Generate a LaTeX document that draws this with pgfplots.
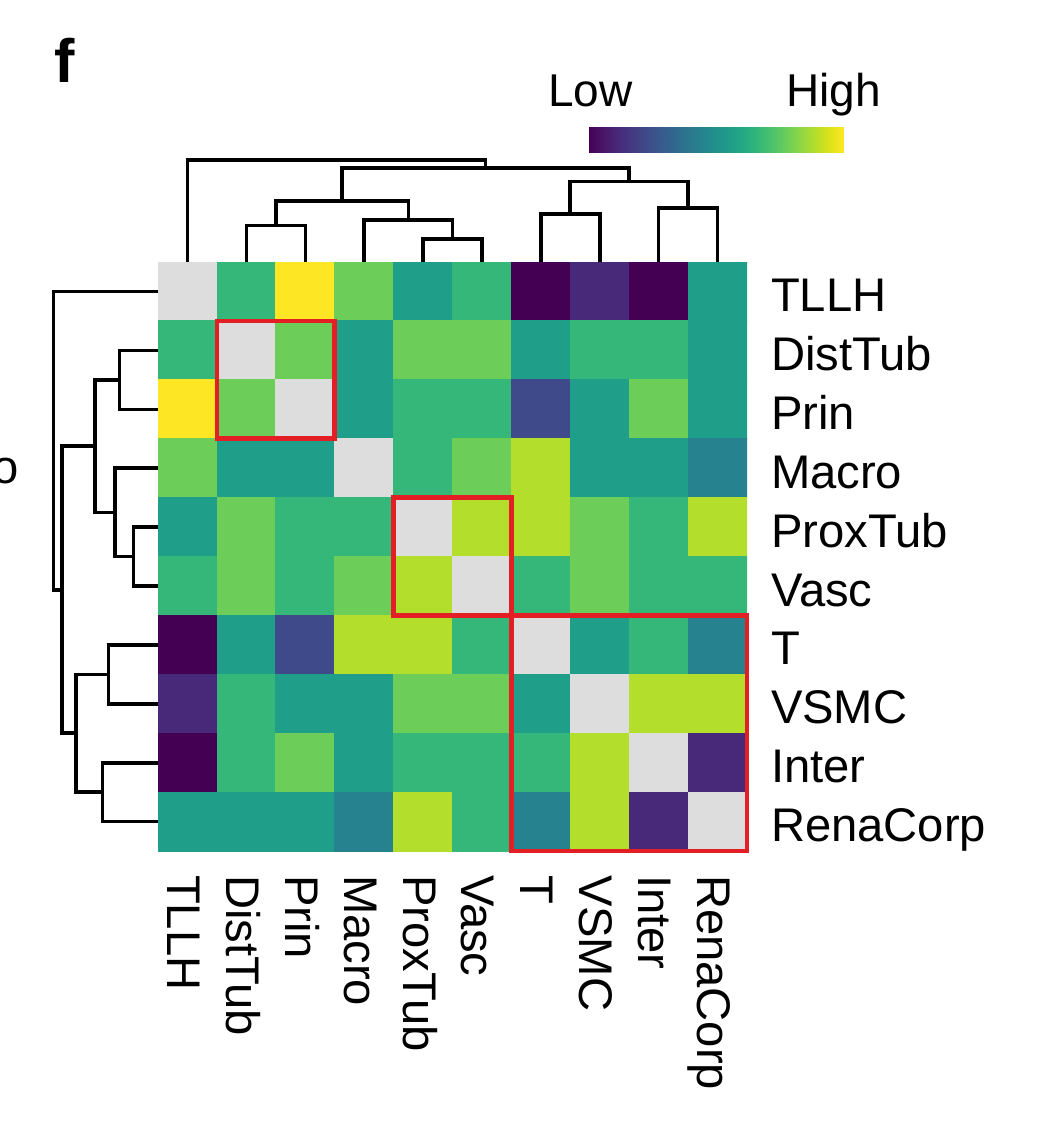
\documentclass[border=0pt]{standalone}
\usepackage{pgfplots}
\pgfplotsset{compat=1.18}
\usepackage{fontspec}
\setmainfont{Liberation Sans}
\definecolor{boxred}{RGB}{227,30,36}
\begin{document}
\begin{tikzpicture}
\path[use as bounding box] (0,0) rectangle (260pt,280.25pt);

% ---------------- heatmap ----------------
\begin{axis}[at={(39.5pt,67.5pt)}, anchor=south west, scale only axis,
  width=147.25pt, height=147.25pt,
  xmin=-0.5, xmax=9.5, ymin=-0.5, ymax=9.5, y dir=reverse, hide axis,
  colormap={hm}{rgb255=(68,1,84) rgb255=(72,40,120) rgb255=(62,74,137)
    rgb255=(49,104,142) rgb255=(38,130,142) rgb255=(31,158,137)
    rgb255=(53,183,121) rgb255=(109,205,89) rgb255=(180,222,44)
    rgb255=(253,231,37) rgb255=(221,221,221)},
  colormap access=direct]
\addplot[matrix plot, mesh/cols=10, point meta=explicit,
  faceted color=white!70!gray, line width=0.2pt] coordinates {
(0,0) [10] (1,0) [6] (2,0) [9] (3,0) [7] (4,0) [5] (5,0) [6] (6,0) [0] (7,0) [1] (8,0) [0] (9,0) [5]

(0,1) [6] (1,1) [10] (2,1) [7] (3,1) [5] (4,1) [7] (5,1) [7] (6,1) [5] (7,1) [6] (8,1) [6] (9,1) [5]

(0,2) [9] (1,2) [7] (2,2) [10] (3,2) [5] (4,2) [6] (5,2) [6] (6,2) [2] (7,2) [5] (8,2) [7] (9,2) [5]

(0,3) [7] (1,3) [5] (2,3) [5] (3,3) [10] (4,3) [6] (5,3) [7] (6,3) [8] (7,3) [5] (8,3) [5] (9,3) [4]

(0,4) [5] (1,4) [7] (2,4) [6] (3,4) [6] (4,4) [10] (5,4) [8] (6,4) [8] (7,4) [7] (8,4) [6] (9,4) [8]

(0,5) [6] (1,5) [7] (2,5) [6] (3,5) [7] (4,5) [8] (5,5) [10] (6,5) [6] (7,5) [7] (8,5) [6] (9,5) [6]

(0,6) [0] (1,6) [5] (2,6) [2] (3,6) [8] (4,6) [8] (5,6) [6] (6,6) [10] (7,6) [5] (8,6) [6] (9,6) [4]

(0,7) [1] (1,7) [6] (2,7) [5] (3,7) [5] (4,7) [7] (5,7) [7] (6,7) [5] (7,7) [10] (8,7) [8] (9,7) [8]

(0,8) [0] (1,8) [6] (2,8) [7] (3,8) [5] (4,8) [6] (5,8) [6] (6,8) [6] (7,8) [8] (8,8) [10] (9,8) [1]

(0,9) [5] (1,9) [5] (2,9) [5] (3,9) [4] (4,9) [8] (5,9) [6] (6,9) [4] (7,9) [8] (8,9) [1] (9,9) [10]
};
\end{axis}

% ---------------- colour bar ----------------
\begin{axis}[at={(147.25pt,242pt)}, anchor=south west, scale only axis,
  width=63.5pt, height=6.5pt, xmin=0, xmax=1, ymin=0, ymax=1,
  view={0}{90}, hide axis, colormap/viridis,
  point meta min=0, point meta max=1]
\addplot3[surf, shader=interp, point meta=x] coordinates {
(0,0,0) (0.125,0,0) (0.25,0,0) (0.375,0,0) (0.5,0,0) (0.625,0,0) (0.75,0,0) (0.875,0,0) (1,0,0)

(0,1,0) (0.125,1,0) (0.25,1,0) (0.375,1,0) (0.5,1,0) (0.625,1,0) (0.75,1,0) (0.875,1,0) (1,1,0)
};
\end{axis}

% ---------------- overlay in pixel units ----------------
\begin{axis}[at={(0pt,0pt)}, anchor=south west, scale only axis,
  width=260pt, height=280.25pt, xmin=0, xmax=1040, ymin=0, ymax=1121,
  y dir=reverse, hide axis, clip=false,
  dendro/.style={black, solid, line width=0.9pt, line join=miter, mark=none},
  redbox/.style={boxred, solid, line width=1.15pt, line cap=rect, line join=miter, mark=none}]
% top dendrogram
\addplot[dendro] coordinates {(246.4,262) (246.4,225.7) (305.3,225.7) (305.3,262)};
\addplot[dendro] coordinates {(423.0,262) (423.0,239.0) (481.9,239.0) (481.9,262)};
\addplot[dendro] coordinates {(364.2,262) (364.2,220.3) (452.45,220.3) (452.45,239.0)};
\addplot[dendro] coordinates {(275.85,225.7) (275.85,201.0) (408.3,201.0) (408.3,220.3)};
\addplot[dendro] coordinates {(540.8,262) (540.8,214.3) (599.7,214.3) (599.7,262)};
\addplot[dendro] coordinates {(658.6,262) (658.6,208.3) (717.5,208.3) (717.5,262)};
\addplot[dendro] coordinates {(570.25,214.3) (570.25,181.7) (688.05,181.7) (688.05,208.3)};
\addplot[dendro] coordinates {(342.1,201.0) (342.1,168.3) (629.15,168.3) (629.15,181.7)};
\addplot[dendro] coordinates {(187.5,262) (187.5,160.3) (485.6,160.3) (485.6,168.3)};
% left dendrogram
\addplot[dendro] coordinates {(158,350.4) (119.3,350.4) (119.3,409.3) (158,409.3)};
\addplot[dendro] coordinates {(158,527.1) (133.3,527.1) (133.3,586.0) (158,586.0)};
\addplot[dendro] coordinates {(158,468.2) (115.0,468.2) (115.0,556.55) (133.3,556.55)};
\addplot[dendro] coordinates {(119.3,379.85) (95.0,379.85) (95.0,512.4) (115.0,512.4)};
\addplot[dendro] coordinates {(158,644.9) (108.3,644.9) (108.3,703.8) (158,703.8)};
\addplot[dendro] coordinates {(158,762.7) (102.3,762.7) (102.3,821.6) (158,821.6)};
\addplot[dendro] coordinates {(108.3,674.35) (76.0,674.35) (76.0,792.15) (102.3,792.15)};
\addplot[dendro] coordinates {(95.0,446.1) (61.7,446.1) (61.7,733.25) (76.0,733.25)};
\addplot[dendro] coordinates {(158,291.5) (53.3,291.5) (53.3,589.7) (61.7,589.7)};
% red boxes
\addplot[redbox] coordinates {(216.9,320.9) (334.7,320.9) (334.7,438.7) (216.9,438.7) (216.9,320.9)};
\addplot[redbox] coordinates {(393.6,497.6) (511.4,497.6) (511.4,615.4) (393.6,615.4) (393.6,497.6)};
\addplot[redbox] coordinates {(511.4,615.4) (747.0,615.4) (747.0,851.0) (511.4,851.0) (511.4,615.4)};

% texts
\begin{scope}[every node/.style={inner sep=0pt, outer sep=0pt, font=\fontsize{11.8}{13}\selectfont}]
\node[anchor=base west] at (axis cs:771,311.5) {TLLH};
\node[anchor=base west] at (axis cs:771,370.4) {DistTub};
\node[anchor=base west] at (axis cs:771,429.3) {Prin};
\node[anchor=base west] at (axis cs:771,488.2) {Macro};
\node[anchor=base west] at (axis cs:771,547.1) {ProxTub};
\node[anchor=base west] at (axis cs:771,606.0) {Vasc};
\node[anchor=base west] at (axis cs:771,664.9) {T};
\node[anchor=base west] at (axis cs:771,723.8) {VSMC};
\node[anchor=base west] at (axis cs:771,782.7) {Inter};
\node[anchor=base west] at (axis cs:771,841.6) {RenaCorp};
\node[anchor=base west, rotate=-90] at (axis cs:167.5,875) {TLLH};
\node[anchor=base west, rotate=-90] at (axis cs:226.4,875) {DistTub};
\node[anchor=base west, rotate=-90] at (axis cs:285.3,875) {Prin};
\node[anchor=base west, rotate=-90] at (axis cs:344.2,875) {Macro};
\node[anchor=base west, rotate=-90] at (axis cs:403.0,875) {ProxTub};
\node[anchor=base west, rotate=-90] at (axis cs:461.9,875) {Vasc};
\node[anchor=base west, rotate=-90] at (axis cs:520.8,875) {T};
\node[anchor=base west, rotate=-90] at (axis cs:579.7,875) {VSMC};
\node[anchor=base west, rotate=-90] at (axis cs:638.6,875) {Inter};
\node[anchor=base west, rotate=-90] at (axis cs:697.5,875) {RenaCorp};
\node[anchor=base east] at (axis cs:18.3,483) {o};
\node[anchor=base west, font=\fontsize{11.5}{13}\selectfont] at (axis cs:548,107) {Low};
\node[anchor=base west, font=\fontsize{11.5}{13}\selectfont] at (axis cs:786.5,107) {High};
\node[anchor=base west, font=\fontsize{15.3}{17}\selectfont\bfseries] at (axis cs:54,83) {f};
\end{scope}
\end{axis}
\end{tikzpicture}
\end{document}
